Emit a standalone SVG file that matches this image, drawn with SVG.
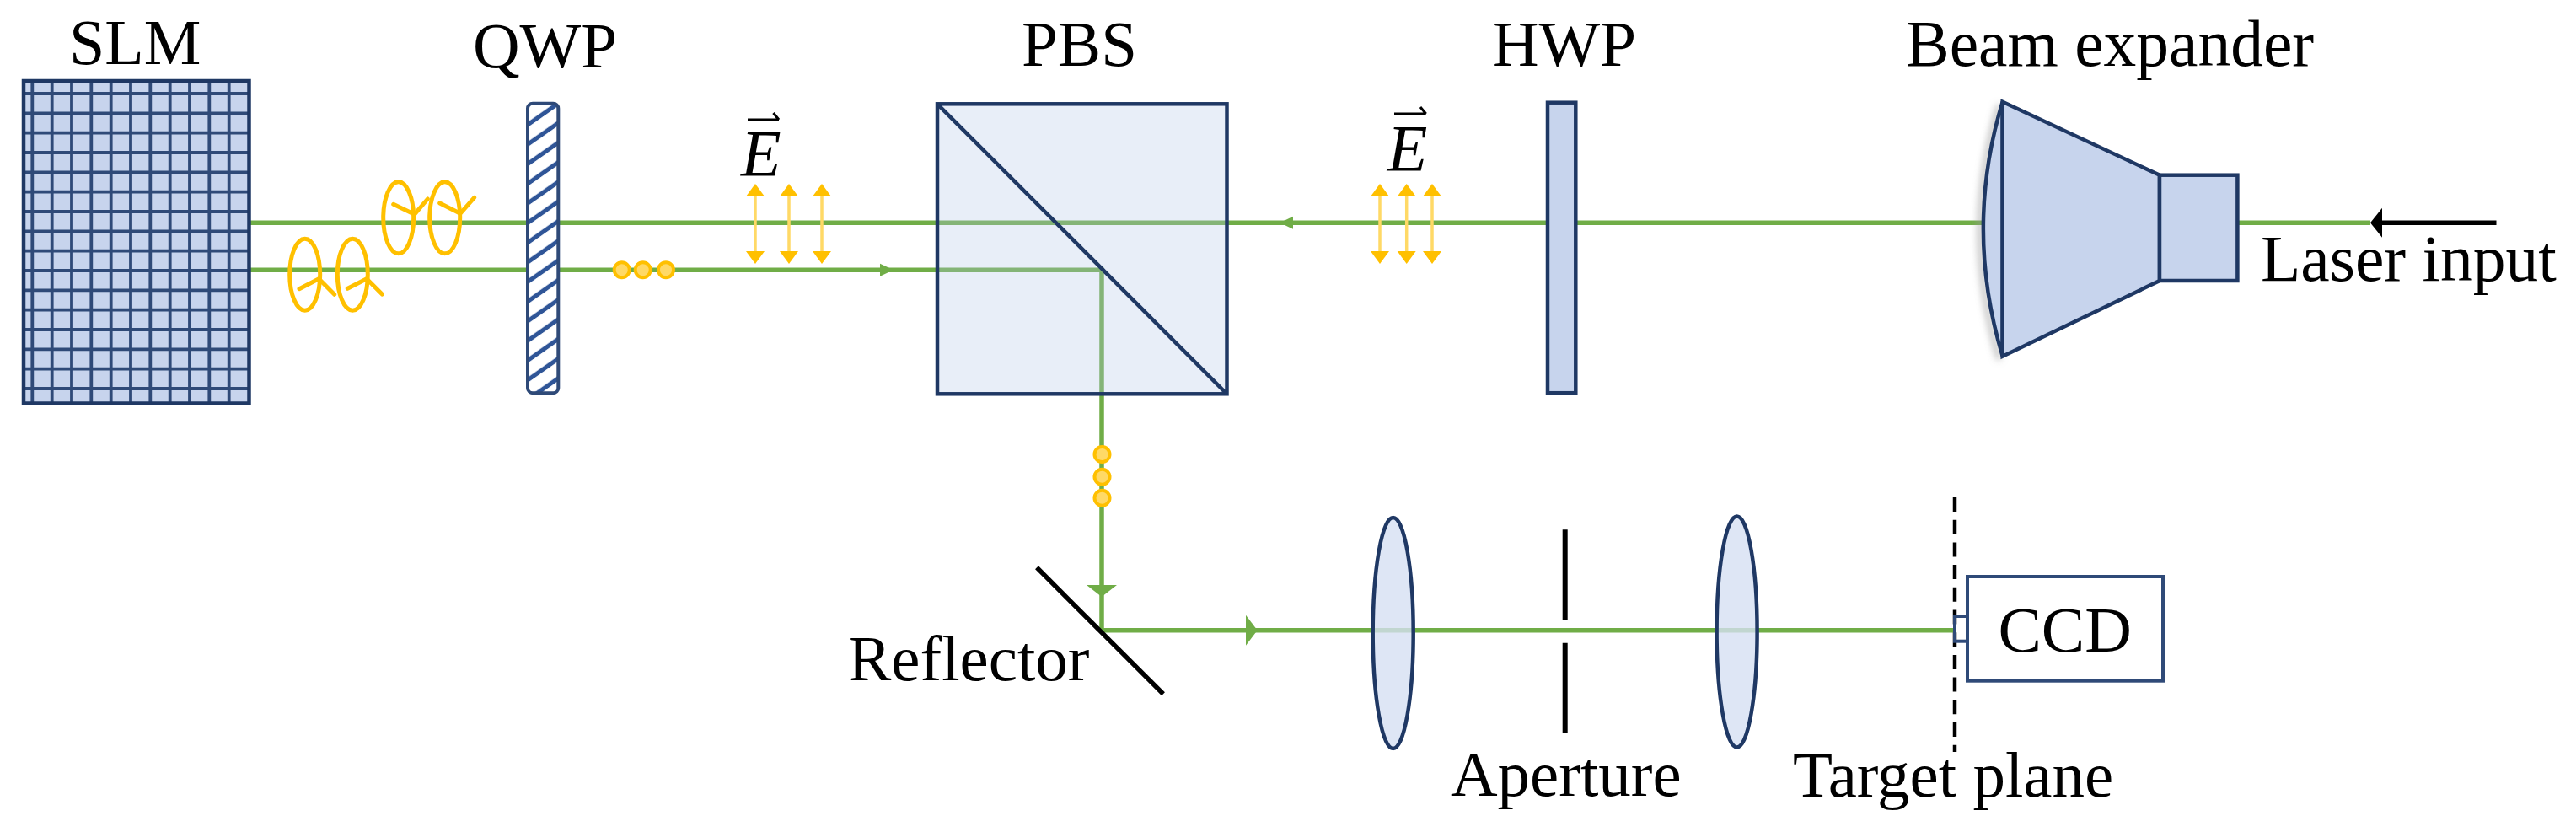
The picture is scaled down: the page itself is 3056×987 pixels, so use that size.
<svg xmlns="http://www.w3.org/2000/svg" width="3056" height="987" viewBox="0 0 3056 987">
<style>
text{font-family:"Liberation Serif","Times New Roman",serif;font-size:77px;fill:#000}
.ital{font-style:italic;font-size:78px}
.beam{fill:none;stroke:#70AD47;stroke-width:5.5}
.head{fill:#70AD47}
.ink{stroke:#1F3864;stroke-width:4.5}
.cell{fill:none;stroke:#2F4A78;stroke-width:3.8}
.blue{fill:#C7D4ED}
.glass{fill:#B4C7E7;fill-opacity:.3}
.lens{fill:#D6E0F2;fill-opacity:.8;stroke:#1F3864;stroke-width:4.5}
.blk{stroke:#000;fill:none}
.pol{fill:none;stroke:#FFC000;stroke-width:5;stroke-linecap:round;stroke-linejoin:round}
.dot{fill:#FFD966;stroke:#FFC000;stroke-width:4}
.vec{fill:none;stroke:#000;stroke-width:3}
</style>
<defs>
<pattern id="hatch" patternUnits="userSpaceOnUse" width="36" height="23.3" patternTransform="skewY(-35)"><rect width="36" height="23.3" fill="#fff"/><rect y="0.7" width="36" height="6.2" fill="#2F5597"/></pattern>
<g id="dbl"><line x1="0" y1="228" x2="0" y2="303" stroke="#FFD966" stroke-width="3.5"/><polygon points="0,218 11,233 -11,233" fill="#FFC000"/><polygon points="0,313 11,298 -11,298" fill="#FFC000"/></g>
<g id="circ"><ellipse cx="0" cy="0" rx="18" ry="42.5" class="pol"/></g>
<filter id="soft" x="-50%" y="-10%" width="200%" height="120%"><feGaussianBlur stdDeviation="4"/></filter>
</defs>
<rect width="3056" height="987" fill="#fff"/>

<g id="connectors">
<path class="beam" d="M296 264.3H2812"/>
<path class="beam" d="M296 320.3H1307V747.7H2319"/>
<polygon class="head" points="1518,264.3 1534,256.8 1534,271.8"/>
<polygon class="head" points="1060,320.3 1044,312.8 1044,327.8"/>
<polygon class="head" points="1307,708 1289,694 1325,694"/>
<polygon class="head" points="1491.7,747.7 1478,729.7 1478,765.7"/>
<path d="M2825 264.3H2961.5" stroke="#000" stroke-width="5.5" fill="none"/>
<polygon points="2812,264.3 2826,246.8 2826,281.8" fill="#000"/>
</g>

<g id="slm">
<rect x="28" y="96" width="267.5" height="382.5" class="blue"/>
<path class="cell" d="M38.3 96V478.5M61.7 96V478.5M85 96V478.5M108.3 96V478.5M131.7 96V478.5M155 96V478.5M178.3 96V478.5M201.7 96V478.5M225 96V478.5M248.3 96V478.5M271.7 96V478.5M28 111H295.5M28 134.3H295.5M28 157.7H295.5M28 181H295.5M28 204.3H295.5M28 227.7H295.5M28 251H295.5M28 274.3H295.5M28 297.7H295.5M28 321H295.5M28 344.3H295.5M28 367.7H295.5M28 391H295.5M28 414.3H295.5M28 437.7H295.5M28 461H295.5"/>
<rect x="28" y="96" width="267.5" height="382.5" fill="none" stroke="#1F3864" stroke-width="4.5"/>
<text x="82" y="76" style="font-size:76px">SLM</text>
</g>

<g id="polarization-circular">
<use href="#circ" x="361.7" y="325.7"/><use href="#circ" x="418.3" y="325.7"/>
<use href="#circ" x="472.7" y="258.3"/><use href="#circ" x="527.7" y="258.3"/>
<path class="pol" d="M355 342.7L378.3 330.7L396.7 349.3M412.3 342.3L435 330.7L453.3 349M466.7 242.3L491.7 254.3L507.3 236M521.7 241L546 253.3L562.7 234.3"/>
</g>

<g id="qwp">
<rect x="626" y="122.7" width="36.3" height="343.5" rx="6" fill="url(#hatch)" stroke="#2F4A78" stroke-width="4"/>
<text x="561" y="80">QWP</text>
</g>

<g id="polarization-dots">
<circle class="dot" cx="737.7" cy="320.3" r="9"/><circle class="dot" cx="762.7" cy="320.3" r="9"/><circle class="dot" cx="790" cy="320.3" r="9"/>
<circle class="dot" cx="1307.5" cy="539" r="9"/><circle class="dot" cx="1307.5" cy="565.7" r="9"/><circle class="dot" cx="1307.5" cy="590.7" r="9"/>
</g>

<g id="field-left">
<use href="#dbl" x="896"/><use href="#dbl" x="936"/><use href="#dbl" x="975"/>
<text class="ital" x="879" y="208">E</text>
<path class="vec" d="M887 142H924M917.5 134L924 142"/>
</g>

<g id="pbs">
<rect x="1112" y="123.3" width="343.5" height="344" class="glass" stroke="#1F3864" stroke-width="4.5"/>
<line x1="1112" y1="123.3" x2="1455.5" y2="467.3" class="ink"/>
<text x="1212" y="78">PBS</text>
</g>

<g id="field-right">
<use href="#dbl" x="1637"/><use href="#dbl" x="1668.7"/><use href="#dbl" x="1699"/>
<text class="ital" x="1645.7" y="202">E</text>
<path class="vec" d="M1654 135H1691.7M1685 127L1691.7 135"/>
</g>

<g id="hwp">
<rect x="1836" y="121.7" width="33.3" height="344.5" class="blue ink"/>
<text x="1770" y="78">HWP</text>
</g>

<g id="beam-expander">
<path d="M2375.7 120.7Q2330 271 2375.7 422.7" fill="none" stroke="#999" stroke-width="4" filter="url(#soft)" transform="translate(-4 4)"/>
<path d="M2375.7 120.7Q2330 271 2375.7 422.7Z" class="blue ink"/>
<polygon points="2375.7,120.7 2562,207.7 2562,333 2375.7,422.7" class="blue ink"/>
<rect x="2562" y="207.7" width="92.4" height="125.3" class="blue ink"/>
<text x="2261" y="78" style="font-size:77.5px">Beam expander</text>
</g>

<g id="laser-input"><text x="2682" y="333" style="font-size:77.5px">Laser input</text></g>

<g id="reflector">
<line x1="1230" y1="673.3" x2="1380" y2="823.3" class="blk" stroke-width="5.5"/>
<text x="1006" y="807">Reflector</text>
</g>

<g id="lens-1"><ellipse cx="1652.7" cy="751" rx="24" ry="137" class="lens"/></g>

<g id="aperture">
<path class="blk" stroke-width="6" d="M1856.7 628.3V735M1856.7 762.7V869.3"/>
<text x="1721" y="944">Aperture</text>
</g>

<g id="lens-2"><ellipse cx="2060.6" cy="749.5" rx="24" ry="137" class="lens"/></g>

<g id="target-plane">
<line x1="2319" y1="590" x2="2319" y2="892" stroke="#000" stroke-width="4.5" stroke-dasharray="17 9.7"/>
<text x="2127" y="945">Target plane</text>
</g>

<g id="ccd">
<rect x="2319" y="731" width="15" height="29.7" fill="none" stroke="#2F4A78" stroke-width="4"/>
<rect x="2334" y="684" width="232" height="123.7" fill="#fff" stroke="#2F4A78" stroke-width="4"/>
<text x="2370.5" y="773">CCD</text>
</g>
</svg>
